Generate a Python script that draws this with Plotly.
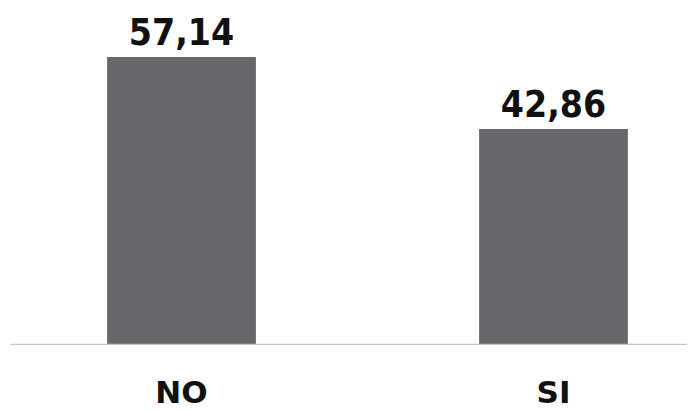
import plotly.graph_objects as go

categories = ["NO", "SI"]
values = [57.14, 42.86]
value_labels = [f"{v:.2f}".replace(".", ",") for v in values]

fig = go.Figure(
    go.Bar(
        x=categories,
        y=values,
        text=value_labels,
        textposition="outside",
        cliponaxis=False,
        textfont=dict(family="DejaVu Sans Condensed", size=37, color="#111111", weight="bold"),
        marker=dict(color="#68686c", line=dict(width=0)),
        width=0.4,
        hoverinfo="skip",
    )
)

fig.update_layout(
    width=687,
    height=403,
    margin=dict(l=0, r=0, t=10, b=66, autoexpand=False),
    paper_bgcolor="white",
    plot_bgcolor="white",
    showlegend=False,
    xaxis=dict(
        range=[-0.4664, 1.3804],
        showgrid=False,
        zeroline=False,
        showline=False,
        ticks="",
        ticklabelstandoff=26,
        tickfont=dict(family="DejaVu Sans", size=31, color="#111111", weight="bold"),
        automargin=False,
    ),
    yaxis=dict(
        range=[0, 64.88],
        visible=False,
        automargin=False,
    ),
    shapes=[
        dict(type="line", xref="paper", yref="y", x0=0.003, x1=1, y0=0, y1=0,
             line=dict(color="#c4c4c4", width=2.5))
    ],
)

fig.write_html("out.html")
